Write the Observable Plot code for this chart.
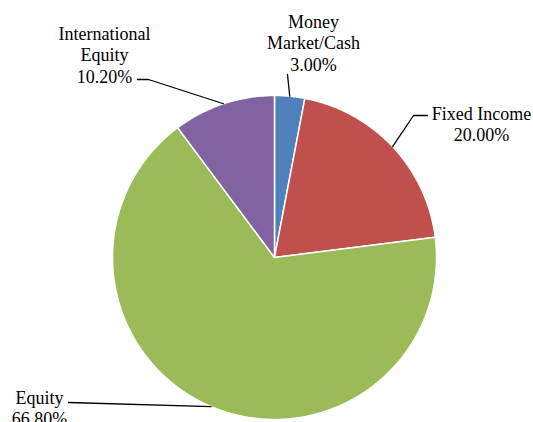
<!DOCTYPE html>
<html>
<head>
<meta charset="utf-8">
<script src="https://cdn.jsdelivr.net/npm/d3@7"></script>
<script src="https://cdn.jsdelivr.net/npm/@observablehq/plot@0.6"></script>
<style>
  html, body { margin: 0; padding: 0; background: #fff; overflow: hidden; }
</style>
</head>
<body>
<div id="chart"></div>
<script>
// ---- data ----
const categories = ["Money Market/Cash", "Fixed Income", "Equity", "International Equity"];
const values = [3.0, 20.0, 66.8, 10.2];
const nameLabels = ["Money\nMarket/Cash", "Fixed Income", "Equity", "International\nEquity"];
const percentLabels = ["3.00%", "20.00%", "66.80%", "10.20%"];

// ---- styles / layout ----
const colors = ["#4F81BD", "#C0504D", "#9BBB59", "#8064A2"];
const W = 533, H = 422;
const cx = 274, cy = 257, r = 162;
// label text anchors (top-middle) and leader elbow points, in pixels
const labelLayout = [
  {text: [313, 12], lead: [[287, 74]]},
  {text: [481, 104], lead: [[427, 115], [413, 115]]},
  {text: [39, 388], lead: [[68, 402]]},
  {text: [104, 24], lead: [[137, 79], [148, 79]]}
];
const toData = ([px, py]) => [(px - cx) / r, (cy - py) / r];

// ---- geometry from data ----
const arcs = d3.pie().sort(null).value(d => d)(values);
const polys = [];
arcs.forEach((a, i) => {
  const name = categories[i];
  polys.push({name, x: 0, y: 0});
  const steps = Math.max(2, Math.ceil((a.endAngle - a.startAngle) / (Math.PI / 360)));
  for (let k = 0; k <= steps; k++) {
    const t = a.startAngle + (a.endAngle - a.startAngle) * k / steps;
    polys.push({name, x: Math.sin(t), y: Math.cos(t)});
  }
});

const leaders = [];
const labels = [];
arcs.forEach((a, i) => {
  const L = labelLayout[i];
  L.lead.forEach(p => { const [x, y] = toData(p); leaders.push({name: categories[i], x, y}); });
  const mid = (a.startAngle + a.endAngle) / 2;
  leaders.push({name: categories[i], x: Math.sin(mid), y: Math.cos(mid)});
  const [tx, ty] = toData(L.text);
  labels.push({name: categories[i], x: tx, y: ty, text: nameLabels[i] + "\n" + percentLabels[i]});
});

const chart = Plot.plot({
  width: W,
  height: H,
  margin: 0,
  style: {background: "#fff", overflow: "hidden"},
  x: {domain: [-1, 1], range: [cx - r, cx + r], axis: null},
  y: {domain: [-1, 1], range: [cy + r, cy - r], axis: null},
  color: {domain: categories, range: colors},
  marks: [
    Plot.line(polys, {x: "x", y: "y", z: "name", fill: "name", stroke: "white", strokeWidth: 1.5, curve: "linear-closed"}),
    Plot.line(leaders, {x: "x", y: "y", z: "name", stroke: "black", strokeWidth: 1.3}),
    Plot.text(labels, {x: "x", y: "y", text: "text", lineAnchor: "top", textAnchor: "middle",
      fontFamily: "Liberation Serif", fontSize: 18, lineHeight: 1.19, fill: "black"})
  ]
});
document.getElementById("chart").appendChild(chart);
</script>
</body>
</html>
